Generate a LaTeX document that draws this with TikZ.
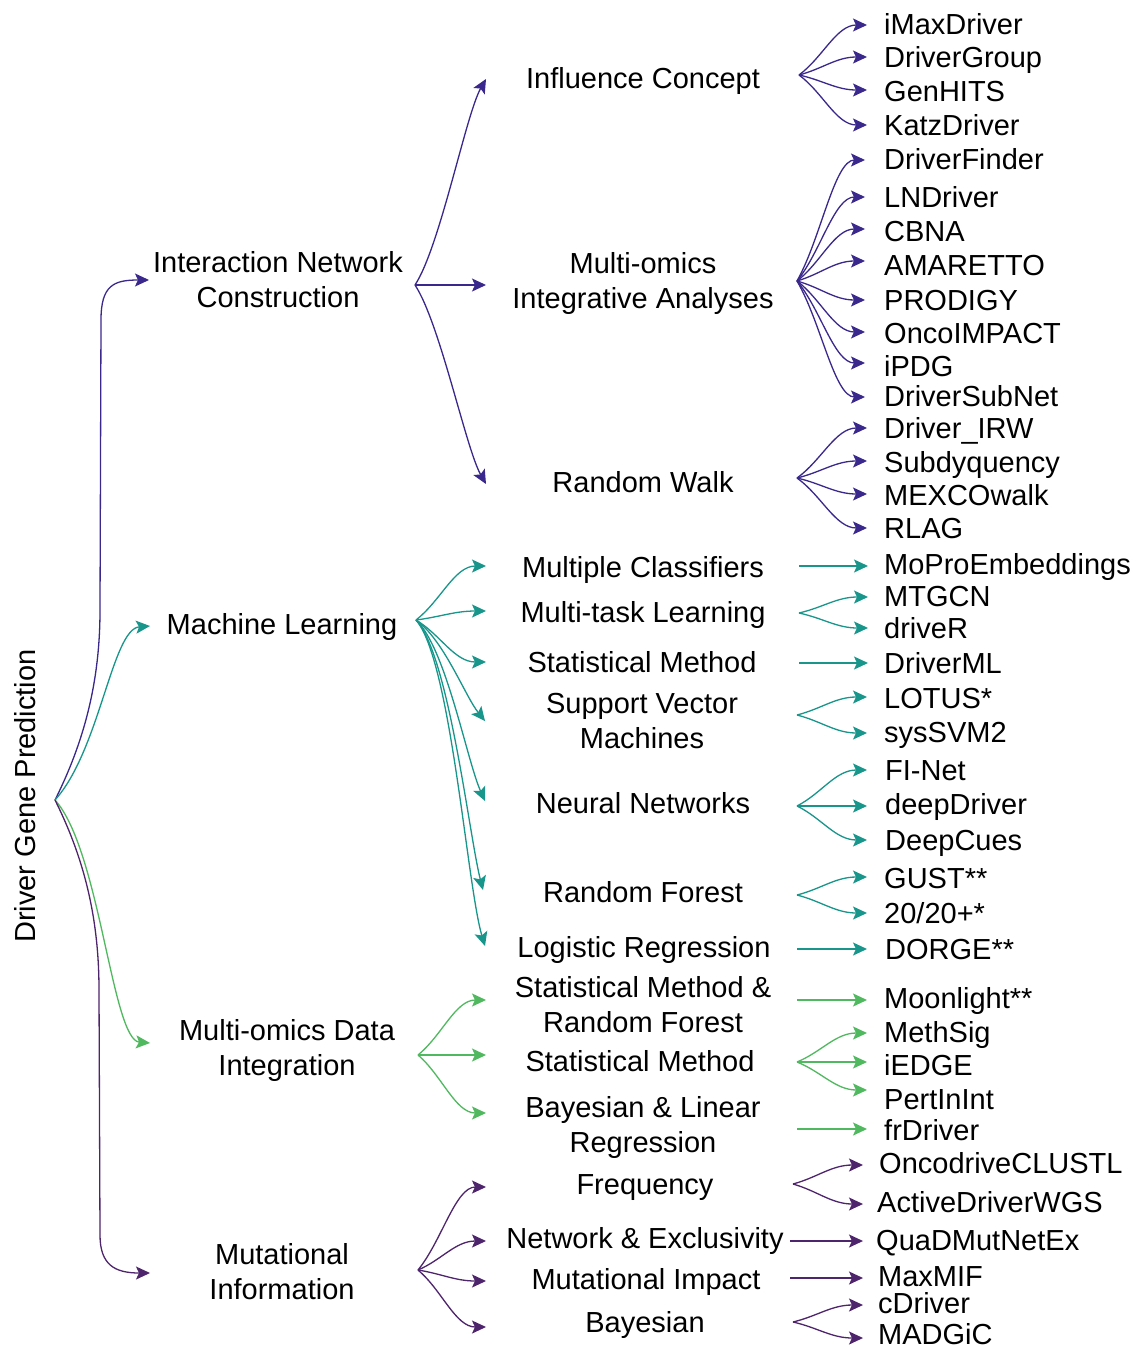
\documentclass[tikz,border=0pt]{standalone}
\usepackage{fontspec}
\setmainfont{Liberation Sans}
\usetikzlibrary{arrows.meta,calc}
\definecolor{cInt}{RGB}{59,40,140}
\definecolor{cML}{RGB}{24,150,140}
\definecolor{cMOD}{RGB}{80,185,95}
\definecolor{cMut}{RGB}{78,36,108}
\newcommand{\st}{\rule[-7pt]{0pt}{35pt}}
\begin{document}
\begin{tikzpicture}[x=1pt,y=1pt,
  lbl/.style={inner sep=0pt, font=\fontsize{29}{35}\selectfont, align=center},
  leaf/.style={inner sep=0pt, font=\fontsize{29}{35}\selectfont, anchor=west},
  conn/.style={line width=1.3pt, -{Stealth[length=14pt,width=13pt,inset=3pt]}},
  fan/.style={to path={let \p1=(\tikztostart), \p2=(\tikztotarget) in
     .. controls ({\x1+0.35*(\x2-\x1)},{\y1+0.35*(\y2-\y1)}) and ({\x2-0.45*(\x2-\x1)},{\y2}) .. (\tikztotarget)}}
]
\path[use as bounding box, fill=white] (0,0) rectangle (1136,-1351);

% ---------- root ----------
\node[lbl, rotate=90] (root) at (25,-796) {\st Driver Gene Prediction};
\coordinate (R) at (55,-800);
\coordinate (vIa) at (100,-610);
\coordinate (vIb) at (101,-320);
\coordinate (vMa) at (99,-990);
\coordinate (vMb) at (100,-1235);

% ---------- level 1 ----------
\node[lbl] (inc) at (278,-279) {\st Interaction Network\\\st Construction};
\node[lbl] (ml)  at (282,-624) {\st Machine Learning};
\node[lbl] (mod) at (287,-1047) {\st Multi-omics Data\\\st Integration};
\node[lbl] (mut) at (282,-1271) {\st Mutational\\\st Information};
\coordinate (tIC)  at (149,-280);
\coordinate (tML)  at (150,-626);
\coordinate (tMOD) at (150,-1043);
\coordinate (tMUT) at (150,-1273);
\coordinate (oIC)  at (415,-285);
\coordinate (oML)  at (416,-620);
\coordinate (oMOD) at (418,-1055);
\coordinate (oMUT) at (418,-1270);

% ---------- level 2 ----------
\node[lbl] (inf)  at (643,-78)   {\st Influence Concept};
\node[lbl] (mia)  at (643,-280.5){\st Multi-omics\\\st Integrative Analyses};
\node[lbl] (rw)   at (643,-482)  {\st Random Walk};
\node[lbl] (mc)   at (643,-567)  {\st Multiple Classifiers};
\node[lbl] (mtl)  at (643,-612)  {\st Multi-task Learning};
\node[lbl] (sm)   at (642,-662)  {\st Statistical Method};
\node[lbl] (svm)  at (642,-720.5){\st Support Vector\\\st Machines};
\node[lbl] (nn)   at (643,-803)  {\st Neural Networks};
\node[lbl] (rf)   at (643,-892)  {\st Random Forest};
\node[lbl] (lr)   at (644,-947)  {\st Logistic Regression};
\node[lbl] (smrf) at (643,-1004) {\st Statistical Method \&\\\st Random Forest};
\node[lbl] (smb)  at (640,-1061) {\st Statistical Method};
\node[lbl] (blr)  at (643,-1124.5){\st Bayesian \& Linear\\\st Regression};
\node[lbl] (freq) at (645,-1184) {\st Frequency};
\node[lbl] (nex)  at (645,-1238) {\st Network \& Exclusivity};
\node[lbl] (mi)   at (646,-1279) {\st Mutational Impact};
\node[lbl] (bay)  at (645,-1322) {\st Bayesian};

\coordinate (tInf)  at (486,-79);
\coordinate (tMIA)  at (486,-285);
\coordinate (tRW)   at (486,-484);
\coordinate (tMC)   at (486,-566);
\coordinate (tMTL)  at (486,-611);
\coordinate (tSM)   at (486,-662);
\coordinate (tSVM)  at (485,-721);
\coordinate (tNN)   at (485,-801);
\coordinate (tRF)   at (483,-890);
\coordinate (tLR)   at (485,-946);
\coordinate (tSMRF) at (486,-1000);
\coordinate (tSMB)  at (486,-1055);
\coordinate (tBLR)  at (486,-1113);
\coordinate (tFreq) at (486,-1187);
\coordinate (tNEX)  at (486,-1241);
\coordinate (tMI)   at (486,-1281);
\coordinate (tBay)  at (486,-1327);

\coordinate (oInf)  at (799,-75);
\coordinate (oMIA)  at (797,-281);
\coordinate (oRW)   at (797,-478);
\coordinate (oMC)   at (799,-566);
\coordinate (oMTL)  at (799,-613);
\coordinate (oSM)   at (799,-663);
\coordinate (oSVM)  at (797,-715);
\coordinate (oNN)   at (797,-806);
\coordinate (oRF)   at (797,-895);
\coordinate (oLR)   at (797,-949);
\coordinate (oSMRF) at (797,-1000);
\coordinate (oSMB)  at (797,-1062);
\coordinate (oBLR)  at (797,-1129);
\coordinate (oFreq) at (793,-1184);
\coordinate (oNEX)  at (790,-1241);
\coordinate (oMI)   at (790,-1278);
\coordinate (oBay)  at (793,-1322);

% ---------- level 3 ----------
\node[leaf] (imax)    at (884,-24)  {\st iMaxDriver};
\node[leaf] (dgroup)  at (884,-57)  {\st DriverGroup};
\node[leaf] (genhits) at (884,-91)  {\st GenHITS};
\node[leaf] (katz)    at (884,-125) {\st KatzDriver};
\node[leaf] (dfinder) at (884,-159) {\st DriverFinder};
\node[leaf] (lnd)     at (884,-197) {\st LNDriver};
\node[leaf] (cbna)    at (884,-231) {\st CBNA};
\node[leaf] (amar)    at (884,-265) {\st AMARETTO};
\node[leaf] (prod)    at (884,-300) {\st PRODIGY};
\node[leaf] (onco)    at (884,-333) {\st OncoIMPACT};
\node[leaf] (ipdg)    at (884,-366) {\st iPDG};
\node[leaf] (dsub)    at (884,-396) {\st DriverSubNet};
\node[leaf] (irw)     at (884,-428) {\st Driver\_IRW};
\node[leaf] (subd)    at (884,-462) {\st Subdyquency};
\node[leaf] (mexco)   at (884,-495) {\st MEXCOwalk};
\node[leaf] (rlag)    at (884,-528) {\st RLAG};
\node[leaf] (mopro)   at (884,-564) {\st MoProEmbeddings};
\node[leaf] (mtgcn)   at (884,-596) {\st MTGCN};
\node[leaf] (drvr)    at (884,-628) {\st driveR};
\node[leaf] (dml)     at (884,-663) {\st DriverML};
\node[leaf] (lotus)   at (884,-698) {\st LOTUS*};
\node[leaf] (syssvm)  at (884,-732) {\st sysSVM2};
\node[leaf] (finet)   at (885,-770) {\st FI-Net};
\node[leaf] (deepd)   at (885,-804) {\st deepDriver};
\node[leaf] (dcues)   at (885,-840) {\st DeepCues};
\node[leaf] (gust)    at (884,-878) {\st GUST**};
\node[leaf] (twenty)  at (884,-913) {\st 20/20+*};
\node[leaf] (dorge)   at (885,-949) {\st DORGE**};
\node[leaf] (moon)    at (884,-998) {\st Moonlight**};
\node[leaf] (methsig) at (884,-1032){\st MethSig};
\node[leaf] (iedge)   at (884,-1065){\st iEDGE};
\node[leaf] (pert)    at (884,-1099){\st PertInInt};
\node[leaf] (frd)     at (884,-1130){\st frDriver};
\node[leaf] (ocl)     at (879,-1163){\st OncodriveCLUSTL};
\node[leaf] (adw)     at (877,-1202){\st ActiveDriverWGS};
\node[leaf] (quad)    at (876,-1240){\st QuaDMutNetEx};
\node[leaf] (maxmif)  at (878,-1276){\st MaxMIF};
\node[leaf] (cdrv)    at (878,-1303){\st cDriver};
\node[inner sep=0pt, font=\fontsize{29}{35}\selectfont, anchor=base west] (madgic) at (878,-1344.5) {MADGiC};

\coordinate (t-imax)    at (867,-25);
\coordinate (t-dgroup)  at (867,-57);
\coordinate (t-genhits) at (867,-90);
\coordinate (t-katz)    at (867,-125);
\coordinate (t-dfinder) at (865,-160);
\coordinate (t-lnd)     at (865,-197);
\coordinate (t-cbna)    at (865,-229);
\coordinate (t-amar)    at (865,-261);
\coordinate (t-prod)    at (865,-300);
\coordinate (t-onco)    at (865,-332);
\coordinate (t-ipdg)    at (865,-363);
\coordinate (t-dsub)    at (865,-397);
\coordinate (t-irw)     at (867,-428);
\coordinate (t-subd)    at (867,-461);
\coordinate (t-mexco)   at (867,-494);
\coordinate (t-rlag)    at (867,-528);
\coordinate (t-mopro)   at (868,-566);
\coordinate (t-mtgcn)   at (868,-597);
\coordinate (t-drvr)    at (868,-628);
\coordinate (t-dml)     at (868,-663);
\coordinate (t-lotus)   at (867,-697);
\coordinate (t-syssvm)  at (867,-733);
\coordinate (t-finet)   at (867,-770);
\coordinate (t-deepd)   at (867,-806);
\coordinate (t-dcues)   at (867,-840);
\coordinate (t-gust)    at (867,-877);
\coordinate (t-twenty)  at (867,-913);
\coordinate (t-dorge)   at (867,-949);
\coordinate (t-moon)    at (867,-1000);
\coordinate (t-methsig) at (867,-1033);
\coordinate (t-iedge)   at (867,-1062);
\coordinate (t-pert)    at (867,-1090);
\coordinate (t-frd)     at (867,-1129);
\coordinate (t-ocl)     at (863,-1165);
\coordinate (t-adw)     at (863,-1204);
\coordinate (t-quad)    at (863,-1241);
\coordinate (t-maxmif)  at (863,-1278);
\coordinate (t-cdrv)    at (863,-1305);
\coordinate (t-madgic)  at (863,-1338);

% ---------- connectors: interaction network ----------
\begin{scope}[conn, cInt]
\draw (R) .. controls +(30,60) and +(0,-70) .. (vIa) -- (vIb) .. controls +(0,35) and +(-35,0) .. (tIC);
\draw (oIC) .. controls +(25,38) and +(-20,-35) .. (tInf);
\draw (oIC) -- (tMIA);
\draw (oIC) .. controls +(25,-38) and +(-20,35) .. (tRW);
\foreach \t in {imax,dgroup,genhits,katz} \draw (oInf) to[fan] (t-\t);
\foreach \t in {dfinder,lnd,cbna,amar,prod,onco,ipdg,dsub} \draw (oMIA) to[fan] (t-\t);
\foreach \t in {irw,subd,mexco,rlag} \draw (oRW) to[fan] (t-\t);
\end{scope}

% ---------- connectors: machine learning ----------
\begin{scope}[conn, cML]
\draw (R) .. controls +(45,50) and +(-38,-3) .. (tML);
\draw (oML) to[fan] (tMC);
\draw (oML) to[fan] (tMTL);
\draw (oML) to[fan] (tSM);
\draw (oML) .. controls +(28,-20) and +(-20,25) .. (tSVM);
\draw (oML) .. controls +(30,-28) and +(-18,40) .. (tNN);
\draw (oML) .. controls +(33,-35) and +(-14,55) .. (tRF);
\draw (oML) .. controls +(35,-40) and +(-18,60) .. (tLR);
\draw (oMC) -- (oMC -| t-mopro);
\draw (oMTL) to[fan] (t-mtgcn);
\draw (oMTL) to[fan] (t-drvr);
\draw (oSM) -- (oSM -| t-dml);
\draw (oSVM) to[fan] (t-lotus);
\draw (oSVM) to[fan] (t-syssvm);
\draw (oNN) to[fan] (t-finet);
\draw (oNN) to[fan] (t-deepd);
\draw (oNN) to[fan] (t-dcues);
\draw (oRF) to[fan] (t-gust);
\draw (oRF) to[fan] (t-twenty);
\draw (oLR) -- (oLR -| t-dorge);
\end{scope}

% ---------- connectors: multi-omics data integration ----------
\begin{scope}[conn, cMOD]
\draw (R) .. controls +(45,-50) and +(-38,3) .. (tMOD);
\draw (oMOD) to[fan] (tSMRF);
\draw (oMOD) -- (tSMB);
\draw (oMOD) to[fan] (tBLR);
\draw (oSMRF) -- (oSMRF -| t-moon);
\draw (oSMB) to[fan] (t-methsig);
\draw (oSMB) to[fan] (t-iedge);
\draw (oSMB) to[fan] (t-pert);
\draw (oBLR) -- (oBLR -| t-frd);
\end{scope}

% ---------- connectors: mutational information ----------
\begin{scope}[conn, cMut]
\draw (R) .. controls +(30,-60) and +(0,70) .. (vMa) -- (vMb) .. controls +(0,-30) and +(-35,0) .. (tMUT);
\draw (oMUT) to[fan] (tFreq);
\draw (oMUT) to[fan] (tNEX);
\draw (oMUT) to[fan] (tMI);
\draw (oMUT) to[fan] (tBay);
\draw (oFreq) to[fan] (t-ocl);
\draw (oFreq) to[fan] (t-adw);
\draw (oNEX) -- (oNEX -| t-quad);
\draw (oMI) -- (oMI -| t-maxmif);
\draw (oBay) to[fan] (t-cdrv);
\draw (oBay) to[fan] (t-madgic);
\end{scope}
\end{tikzpicture}
\end{document}
